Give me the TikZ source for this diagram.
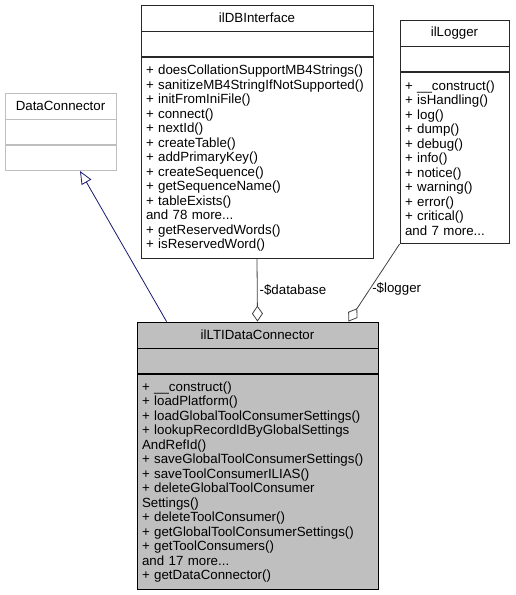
\documentclass[tikz,border=0pt]{standalone}
\usepackage{fontspec}
\setmainfont{Liberation Sans}
\usetikzlibrary{positioning,arrows.meta}

\begin{document}
\begin{tikzpicture}[x=1pt, y=1pt, >=Stealth,
        font=\fontsize{13.3}{14.5}\selectfont,
        classname/.style={draw=boxline, line width=0.8pt, minimum width=#1, minimum height=26pt, inner sep=0pt},
        classattr/.style={draw=boxline, line width=0.8pt, minimum width=#1, minimum height=25pt, inner sep=0pt},
        classops/.style={draw=boxline, line width=0.8pt, text width=#1, align=left, inner xsep=5pt, inner ysep=0pt, anchor=north},
        member/.style={draw=edgegray, line width=0.8pt, {Diamond[open, length=16pt, width=11pt]}-},
        inherit/.style={draw=navyblue, line width=0.8pt, -{Triangle[open, length=13pt, width=11pt]}},
        edgelabel/.style={right, inner sep=2pt}]
    % Define Colors matching the theme
    \definecolor{boxline}{RGB}{40, 40, 40}
    \definecolor{lightline}{RGB}{191, 191, 191}
    \definecolor{classfill}{RGB}{191, 191, 191}
    \definecolor{edgegray}{RGB}{64, 64, 64}
    \definecolor{navyblue}{RGB}{25, 25, 112}

    \useasboundingbox (0,0) rectangle (516,-595);

    % DataConnector (base class)
    \node[classname=111pt, draw=lightline] (dcname) at (60.5,-106) {DataConnector};
    \node[classattr=111pt, draw=lightline, below=0pt of dcname] (dcattr) {};
    \node[classattr=111pt, draw=lightline, below=0pt of dcattr] (dcops) {};

    % ilDBInterface
    \node[classname=232pt] (dbname) at (257,-18) {ilDBInterface};
    \node[classattr=232pt, below=0pt of dbname] (dbattr) {};
    \node[classops=222pt, minimum height=201pt, below=0pt of dbattr] (dbops) {%
        + doesCollationSupportMB4Strings()\\
        + sanitizeMB4StringIfNotSupported()\\
        + initFromIniFile()\\
        + connect()\\
        + nextId()\\
        + createTable()\\
        + addPrimaryKey()\\
        + createSequence()\\
        + getSequenceName()\\
        + tableExists()\\
        and 78 more...\\
        + getReservedWords()\\
        + isReservedWord()};

    % ilLogger
    \node[classname=109pt] (logname) at (454.5,-33) {ilLogger};
    \node[classattr=109pt, below=0pt of logname] (logattr) {};
    \node[classops=99pt, minimum height=171pt, below=0pt of logattr] (logops) {%
        + \_\_construct()\\
        + isHandling()\\
        + log()\\
        + dump()\\
        + debug()\\
        + info()\\
        + notice()\\
        + warning()\\
        + error()\\
        + critical()\\
        and 7 more...};

    % ilLTIDataConnector
    \node[classname=241pt, fill=classfill, draw=black] (ltiname) at (257.5,-335) {ilLTIDataConnector};
    \node[classattr=241pt, fill=classfill, draw=black, below=0pt of ltiname] (ltiattr) {};
    \node[classops=231pt, fill=classfill, draw=black, minimum height=215pt, below=0pt of ltiattr] (ltiops) {%
        + \_\_construct()\\
        + loadPlatform()\\
        + loadGlobalToolConsumerSettings()\\
        + lookupRecordIdByGlobalSettings\\
        AndRefId()\\
        + saveGlobalToolConsumerSettings()\\
        + saveToolConsumerILIAS()\\
        + deleteGlobalToolConsumer\\
        Settings()\\
        + deleteToolConsumer()\\
        + getGlobalToolConsumerSettings()\\
        + getToolConsumers()\\
        and 17 more...\\
        + getDataConnector()};

    % Relations
    \draw[inherit] ([xshift=30pt]ltiname.north west) -- ([xshift=19.5pt]dcops.south);
    \draw[member] (ltiname.north) -- (dbops.south)
        node[edgelabel, pos=0.5] (dblabel) {-\$database};
    \draw[member] ([xshift=-30pt]ltiname.north east) -- (logops.south west)
        node[edgelabel, pos=0.42] (loglabel) {-\$logger};

\end{tikzpicture}
\end{document}
